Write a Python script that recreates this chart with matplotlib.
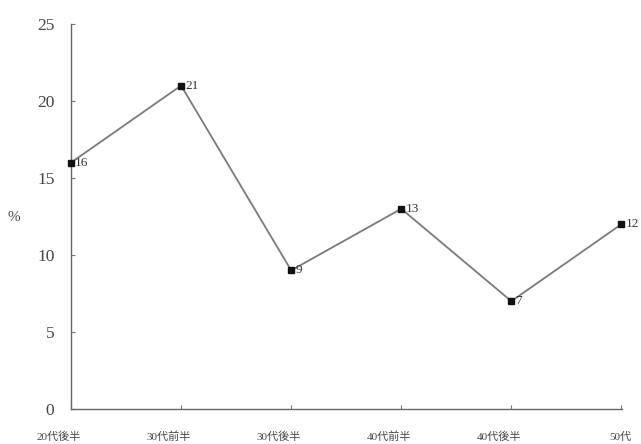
import matplotlib
matplotlib.use("Agg")
import matplotlib.pyplot as plt
import matplotlib.transforms as mtransforms

categories = ["20代後半", "30代前半", "30代後半", "40代前半", "40代後半", "50代"]
values = [16, 21, 9, 13, 7, 12]
y_ticks = [0, 5, 10, 15, 20, 25]

FONT = ["Liberation Serif", "Noto Sans CJK JP", "DejaVu Sans"]
plt.rcParams["font.family"] = FONT

fig = plt.figure(figsize=(6.41, 4.44), dpi=100)
ax = fig.add_axes([71 / 641, 35 / 444, 551 / 641, 385 / 444])

x = list(range(len(categories)))
ax.plot(x, values, color="#7a7a7a", linewidth=1.3, zorder=2)
ax.plot(x, values, linestyle="none", marker="s", markersize=5,
        color="#111111", zorder=3, clip_on=False)

for xi, v in zip(x, values):
    ax.annotate(str(v), (xi, v), xytext=(3, 0), textcoords="offset points",
                ha="left", va="center", fontsize=9.5, color="#333333",
                family=FONT)

ax.set_xlim(0, len(categories) - 1 + 0.005)
ax.set_ylim(0, 25)
ax.set_yticks(y_ticks)
ax.set_yticklabels([str(t) for t in y_ticks], fontsize=12.5, color="#444444")
ax.set_xticks(x)
ax.set_xticklabels([])

# category labels sit just below the axis, right edge slightly past each tick
label_tf = mtransforms.blended_transform_factory(ax.transData, ax.transAxes)
label_tf = label_tf + mtransforms.ScaledTranslation(7 / 72, -20 / 72, fig.dpi_scale_trans)
for xi, name in zip(x, categories):
    ax.text(xi, 0, name, transform=label_tf, ha="right", va="center",
            fontsize=8, color="#444444", family=FONT, clip_on=False)

ax.tick_params(axis="both", direction="in", length=3, width=0.8, colors="#777777",
               labelcolor="#444444")
ax.tick_params(axis="y", pad=12)

for side in ("top", "right"):
    ax.spines[side].set_visible(False)
for side in ("left", "bottom"):
    ax.spines[side].set_color("#666666")
    ax.spines[side].set_linewidth(1.0)

fig.text(14 / 641, 1 - 217 / 444, "%", fontsize=11, color="#444444",
         ha="center", va="center")

fig.savefig("out.png", dpi=100, facecolor="white")
